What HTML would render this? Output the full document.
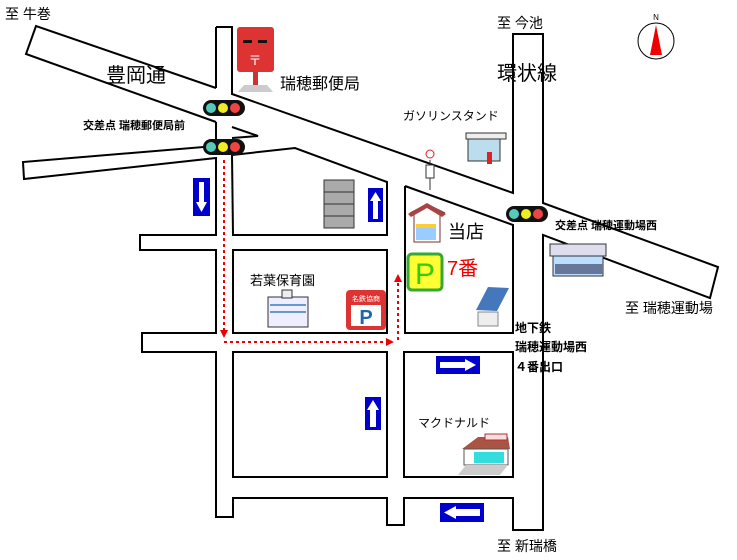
<!DOCTYPE html>
<html><head><meta charset="utf-8"><style>
html,body{margin:0;padding:0;background:#fff;}
svg{display:block;}
text{font-family:"Liberation Sans","Noto Sans CJK JP",sans-serif;fill:#000;}
.b{font-weight:bold;}
</style></head><body>
<svg width="737" height="560" viewBox="0 0 737 560" xmlns="http://www.w3.org/2000/svg">
<g fill="none" stroke="#000" stroke-width="2">
<polyline points="216,88 36,26 26,54 216,122"/>
<polyline points="216,27 232,27 232,94 513,193 513,34 543,34 543,203 718,267 710,298 543,235 543,530 513,530 513,498 404,498 404,525 387,525 387,498 233,498 233,517 216,517 216,352 142,352 142,333 216,333 216,250 140,250 140,235 216,235 216,158 24,179 23,162 216,146 216,122"/>
<line x1="216" y1="27" x2="216" y2="88"/>
<polyline points="232,127 258,136 232,138"/>
<polyline points="232,155 295,148 387,182 387,235 233,235 232,155"/>
<polyline points="405,186 513,225 513,333 405,333 405,186"/>
<rect x="233" y="250" width="154" height="83"/>
<rect x="233" y="352" width="154" height="125"/>
<rect x="404" y="352" width="109" height="125"/>
</g>
<g stroke="#e00" stroke-width="2" stroke-dasharray="3,3" fill="none">
<line x1="224" y1="160" x2="224" y2="332"/>
<line x1="224" y1="342" x2="388" y2="342"/>
<line x1="398" y1="340" x2="398" y2="280"/>
</g>
<g fill="#e00"><polygon points="220,330 228,330 224,338"/><polygon points="386,338 386,346 394,342"/><polygon points="394,282 402,282 398,274"/></g>
<g>
<rect x="203" y="100" width="42" height="16" rx="8" fill="#111"/><circle cx="211" cy="108" r="5" fill="#5cb"/><circle cx="223" cy="108" r="5" fill="#ee2"/><circle cx="235" cy="108" r="5" fill="#e44"/>
<rect x="203" y="139" width="42" height="16" rx="8" fill="#111"/><circle cx="211" cy="147" r="5" fill="#5cb"/><circle cx="223" cy="147" r="5" fill="#ee2"/><circle cx="235" cy="147" r="5" fill="#e44"/>
<rect x="506" y="206" width="42" height="16" rx="8" fill="#111"/><circle cx="514" cy="214" r="5" fill="#5cb"/><circle cx="526" cy="214" r="5" fill="#ee2"/><circle cx="538" cy="214" r="5" fill="#e44"/>
</g>
<rect x="193" y="178" width="17" height="38" fill="#00c"/><polygon points="199,182 204,182 204,202 207,202 201.5,212 196,202 199,202" fill="#fff"/>
<rect x="368" y="188" width="15" height="34" fill="#00c"/><polygon points="373,219 378,219 378,201 381,201 375.5,192 370,201 373,201" fill="#fff"/>
<rect x="436" y="356" width="44" height="18" fill="#00c"/><polygon points="440,362 465,362 465,359 476,365 465,371 465,368 440,368" fill="#fff"/>
<rect x="365" y="397" width="16" height="33" fill="#00c"/><polygon points="370,427 376,427 376,410 379,410 373,400 367,410 370,410" fill="#fff"/>
<rect x="440" y="503" width="44" height="19" fill="#00c"/><polygon points="480,509 456,509 456,506 444,512.5 456,519 456,516 480,516" fill="#fff"/>
<rect x="237" y="27" width="37" height="45" rx="3" fill="#d33"/><rect x="243" y="40" width="9" height="3" fill="#111"/><rect x="258" y="40" width="9" height="3" fill="#111"/>
<text x="255" y="65" font-size="13" text-anchor="middle" style="fill:#fff">〒</text>
<rect x="253" y="72" width="5" height="14" fill="#c33"/><polygon points="238,92 244,85 267,85 273,92" fill="#ccc"/>
<rect x="324" y="180" width="30" height="48" fill="#aaa" stroke="#333"/><line x1="324" y1="192" x2="354" y2="192" stroke="#333"/><line x1="324" y1="204" x2="354" y2="204" stroke="#333"/><line x1="324" y1="216" x2="354" y2="216" stroke="#333"/>
<rect x="466" y="133" width="40" height="6" fill="#eee" stroke="#333"/><rect x="468" y="139" width="32" height="22" fill="#bde" stroke="#333"/><rect x="487" y="152" width="5" height="12" fill="#d22"/>
<line x1="430" y1="160" x2="430" y2="190" stroke="#333"/><circle cx="430" cy="154" r="4" fill="#fff" stroke="#d22"/><rect x="426" y="165" width="8" height="13" fill="#fff" stroke="#333"/>
<polygon points="410,213 427,204 445,213 440,213 440,242 414,242 414,213" fill="#fff" stroke="#733"/><polygon points="408,214 427,203 446,214 442,217 427,208 411,217" fill="#a44"/><rect x="416" y="228" width="20" height="12" fill="#9cf"/><rect x="416" y="224" width="20" height="4" fill="#fc3"/>
<rect x="408" y="254" width="34" height="36" rx="4" fill="#ff3" stroke="#3a3" stroke-width="3"/><text x="425" y="284" font-size="30" text-anchor="middle" style="fill:#3c0">P</text>
<polygon points="476,310 488,287 509,288 497,311" fill="#47b"/><rect x="478" y="312" width="20" height="14" fill="#eee" stroke="#888"/>
<rect x="550" y="244" width="56" height="12" fill="#dde" stroke="#333"/><rect x="553" y="256" width="50" height="20" fill="#bdf" stroke="#333"/><rect x="555" y="264" width="48" height="10" fill="#679"/>
<rect x="268" y="297" width="40" height="30" fill="#eef" stroke="#333"/><line x1="270" y1="305" x2="306" y2="305" stroke="#69c" stroke-width="2"/><line x1="270" y1="312" x2="306" y2="312" stroke="#69c" stroke-width="2"/><rect x="282" y="290" width="10" height="8" fill="#eee" stroke="#333"/>
<rect x="346" y="290" width="40" height="40" rx="4" fill="#d33"/><rect x="351" y="305" width="30" height="21" fill="#fff"/><text x="366" y="324" font-size="20" font-weight="bold" text-anchor="middle" style="fill:#26a">P</text><text x="366" y="301" font-size="7" text-anchor="middle" style="fill:#fff">名鉄協商</text>
<polygon points="462,449 478,437 508,437 510,449" fill="#a54"/><rect x="464" y="449" width="44" height="16" fill="#fff" stroke="#555"/><rect x="474" y="452" width="30" height="11" fill="#3dd"/><polygon points="458,475 466,465 508,465 500,475" fill="#ccc"/><rect x="485" y="434" width="22" height="6" fill="#fdd" stroke="#a33"/>
<circle cx="656" cy="41" r="18" fill="#fff" stroke="#000"/><polygon points="656,25 650,55 662,55" fill="#e00"/><text x="656" y="20" font-size="8" text-anchor="middle">N</text>
<text x="5" y="19" font-size="14">至 牛巻</text>
<text x="106" y="82" font-size="20">豊岡通</text>
<text x="280" y="89" font-size="16">瑞穂郵便局</text>
<text x="83" y="129" font-size="11" class="b">交差点 瑞穂郵便局前</text>
<text x="497" y="28" font-size="14">至 今池</text>
<text x="497" y="80" font-size="20">環状線</text>
<text x="403" y="120" font-size="12">ガソリンスタンド</text>
<text x="448" y="238" font-size="18">当店</text>
<text x="447" y="275" font-size="20" style="fill:#e00">7番</text>
<text x="555" y="229" font-size="11" class="b">交差点 瑞穂運動場西</text>
<text x="625" y="313" font-size="14">至 瑞穂運動場</text>
<text x="250" y="285" font-size="13">若葉保育園</text>
<text x="515" y="332" font-size="12" class="b">地下鉄</text>
<text x="515" y="351" font-size="12" class="b">瑞穂運動場西</text>
<text x="515" y="371" font-size="12" class="b">４番出口</text>
<text x="418" y="427" font-size="12">マクドナルド</text>
<text x="497" y="551" font-size="14">至 新瑞橋</text>
</svg>
</body></html>
